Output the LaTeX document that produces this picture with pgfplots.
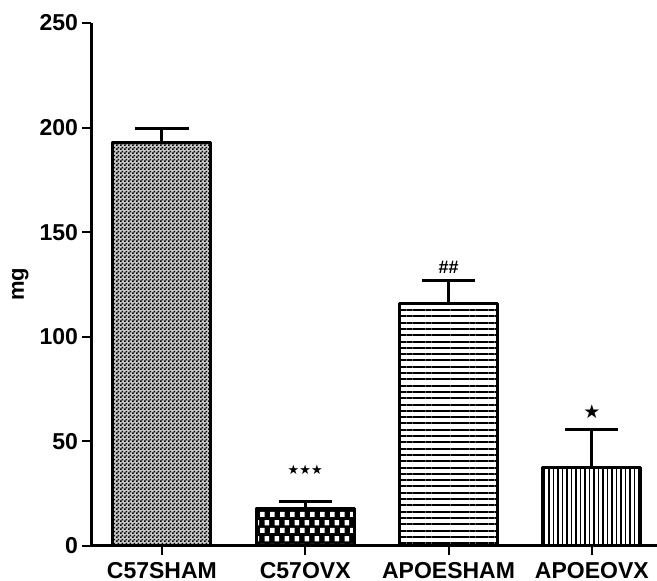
\documentclass[border=0pt]{standalone}
\usepackage{fontspec}
\setmainfont{Liberation Sans}
\newfontfamily\symfont{DejaVu Sans}
\usepackage{pgfplots}
\pgfplotsset{compat=1.18}
\usetikzlibrary{patterns,patterns.meta}

% fine checkerboard for the first bar
\pgfdeclarepatternformonly{fine checker}{\pgfqpoint{0pt}{0pt}}{\pgfqpoint{1.75pt}{1.75pt}}{\pgfqpoint{1.75pt}{1.75pt}}{%
  \pgfpathrectangle{\pgfqpoint{0pt}{0pt}}{\pgfqpoint{0.875pt}{0.875pt}}%
  \pgfpathrectangle{\pgfqpoint{0.875pt}{0.875pt}}{\pgfqpoint{0.875pt}{0.875pt}}%
  \pgfusepath{fill}}
% staggered light squares, drawn over a black fill
\pgfdeclarepatternformonly{coarse checker}{\pgfqpoint{0pt}{0pt}}{\pgfqpoint{5pt}{8pt}}{\pgfqpoint{5pt}{8pt}}{%
  \pgfpathrectangle{\pgfqpoint{0pt}{0pt}}{\pgfqpoint{2.5pt}{2.7pt}}%
  \pgfpathrectangle{\pgfqpoint{2.5pt}{4pt}}{\pgfqpoint{2.5pt}{2.7pt}}%
  \pgfusepath{fill}}

\begin{document}
\begin{tikzpicture}
\begin{axis}[
  at={(0,0)}, anchor=south west,
  scale only axis,
  width=283pt, height=261.5pt,
  xmin=-0.495, xmax=3.455,
  ymin=0, ymax=250,
  axis x line*=bottom, axis y line*=left,
  axis line style={line width=1.5pt},
  xtick={0,1,2,3},
  xticklabels={C57SHAM, C57OVX, APOESHAM, APOEOVX},
  ytick={0,50,100,150,200,250},
  tick align=outside,
  major tick length=4.5pt,
  tick style={line width=1pt, black},
  /pgf/number format/assume math mode=true,
  xticklabel style={font=\bfseries\fontsize{11.5}{13}\selectfont},
  yticklabel style={font=\bfseries\fontsize{11.5}{13}\selectfont, xshift=1.5pt},
  ylabel={mg},
  ylabel style={font=\bfseries\fontsize{11}{12}\selectfont, at={(axis description cs:-0.125,0.5)}, anchor=center},
  ybar, bar width=0.684, bar shift=0pt,
  every axis plot/.append style={draw=black, line width=1.5pt, line join=round},
  error bars/y dir=plus, error bars/y explicit,
  error bars/error bar style={line width=1.5pt, black},
  error bars/error mark options={rotate=90, line width=1.5pt, mark size=13.3pt, black},
  clip=false,
  axis on top,
]
\addplot[fill=gray!45, postaction={pattern=fine checker}] coordinates {(0,193) +- (0,6.5)};
\addplot[fill=black, postaction={pattern=coarse checker, pattern color=white}] coordinates {(1,18) +- (0,3.2)};
\addplot[pattern={Lines[distance=3.15pt, angle=0, line width=1pt]}] coordinates {(2,115.7) +- (0,11.3)};
\addplot[pattern={Lines[distance=2.25pt, angle=90, line width=0.8pt]}] coordinates {(3,37.3) +- (0,18.2)};

\node[font=\symfont\fontsize{6.5}{7}\selectfont, inner sep=0pt] at (axis cs:1,36.3) {★★★};
\node[font=\bfseries\fontsize{9}{10}\selectfont, inner sep=0pt] at (axis cs:2,133) {\#\#};
\node[font=\symfont\fontsize{9.5}{10}\selectfont, inner sep=0pt] at (axis cs:3,64) {★};
\end{axis}
\pgfresetboundingbox
\useasboundingbox (-45.5pt,-17.5pt) rectangle (283pt,273pt);
\end{tikzpicture}
\end{document}
